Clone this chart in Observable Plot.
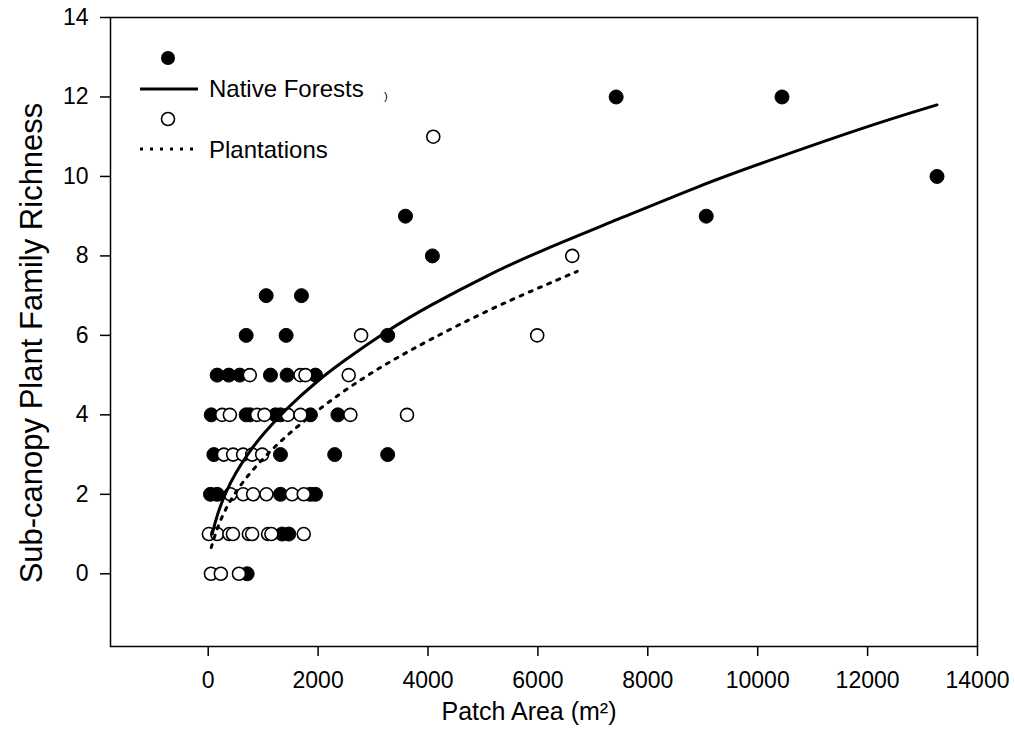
<!DOCTYPE html>
<html>
<head>
<meta charset="utf-8">
<script src="https://cdn.jsdelivr.net/npm/d3@7"></script>
<script src="https://cdn.jsdelivr.net/npm/@observablehq/plot@0.6"></script>
<style>
  html, body { margin: 0; padding: 0; background: #fff; }
  #chart svg { display: block; font-family: "Liberation Sans", Arial, sans-serif; }
</style>
</head>
<body>
<div id="chart"></div>
<script>
// Native forests (filled circles)
const nativeArea = [709, 1345, 1467, 42, 164, 1315, 1861, 1952, 103, 1315, 2302, 3266,
  55, 690, 760, 1224, 1315, 1861, 2360, 163, 375, 575, 1133, 1436, 1952,
  691, 1418, 3266, 1055, 1697, 4080, 3590, 9063, 13263, 7424, 10442];
const nativeRichness = [0, 1, 1, 2, 2, 2, 2, 2, 3, 3, 3, 3,
  4, 4, 4, 4, 4, 4, 4, 5, 5, 5, 5, 5, 5,
  6, 6, 6, 7, 7, 8, 9, 9, 10, 12, 12];
// Plantations (open circles)
const plantArea = [50, 230, 560, 12, 164, 385, 450, 740, 800, 1090, 1150, 1739,
  405, 636, 818, 1060, 1527, 1739, 285, 454, 636, 800, 982,
  255, 394, 891, 1024, 1448, 1679, 2587, 3618, 757, 1679, 1770, 2557,
  2782, 5987, 6625, 4096];
const plantRichness = [0, 0, 0, 1, 1, 1, 1, 1, 1, 1, 1, 1,
  2, 2, 2, 2, 2, 2, 3, 3, 3, 3, 3,
  4, 4, 4, 4, 4, 4, 4, 4, 5, 5, 5, 5,
  6, 6, 8, 11];
// Fitted curves
const nativeFitArea = [73, 160, 315, 500, 739, 1000, 1436, 2000, 2405, 3266, 4000, 5133, 6000, 7424, 9000, 10000, 12000, 13263];
const nativeFitRichness = [1.0, 1.48, 2.05, 2.55, 3.06, 3.52, 4.18, 4.87, 5.30, 6.13, 6.73, 7.55, 8.1, 8.9, 9.8, 10.3, 11.27, 11.8];
const plantFitArea = [55, 193, 436, 800, 1436, 2405, 3224, 4042, 5024, 6000, 6715];
const plantFitRichness = [0.66, 1.29, 1.95, 2.63, 3.52, 4.56, 5.28, 5.9, 6.59, 7.19, 7.61];
// Axes
const xTicks = [0, 2000, 4000, 6000, 8000, 10000, 12000, 14000];
const yTicks = [0, 2, 4, 6, 8, 10, 12, 14];
const legendLabels = ["Native Forests", "Plantations"];

const nativePts = nativeArea.map((a, i) => ({area: a, rich: nativeRichness[i]}));
const plantPts = plantArea.map((a, i) => ({area: a, rich: plantRichness[i]}));
const nativeFit = nativeFitArea.map((a, i) => ({area: a, rich: nativeFitRichness[i]}));
const plantFit = plantFitArea.map((a, i) => ({area: a, rich: plantFitRichness[i]}));

const font = "Liberation Sans, Arial, sans-serif";

const plot = Plot.plot({
  width: 1015,
  height: 755,
  marginLeft: 110,
  marginRight: 38,
  marginTop: 17,
  marginBottom: 109,
  style: {fontFamily: font, background: "#fff", color: "#000"},
  x: {domain: [-1778, 14000]},
  y: {domain: [-1.83, 14]},
  marks: [
    Plot.axisX({ticks: xTicks, tickSize: 10, tickPadding: 15, fontSize: 23, label: null,
      tickFormat: d3.format("d"), stroke: "#000", strokeWidth: 1.5}),
    Plot.axisY({ticks: yTicks, tickSize: 10, tickPadding: 12, fontSize: 23, label: null,
      tickFormat: d3.format("d"), stroke: "#000", strokeWidth: 1.5}),
    Plot.frame({stroke: "#000", strokeWidth: 1.5}),
    Plot.dot(nativePts, {x: "area", y: "rich", r: 7, fill: "#000", stroke: "#000", strokeWidth: 1}),
    Plot.dot(plantPts, {x: "area", y: "rich", r: 6.5, fill: "#fff", stroke: "#000", strokeWidth: 1.6}),
    Plot.line(nativeFit, {x: "area", y: "rich", curve: "basis", stroke: "#000", strokeWidth: 3}),
    Plot.line(plantFit, {x: "area", y: "rich", curve: "basis", stroke: "#000", strokeWidth: 3,
      strokeDasharray: "3,7"}),
    Plot.text(["Patch Area (m²)"], {frameAnchor: "bottom", dx: -15, dy: 65, lineAnchor: "middle",
      textAnchor: "middle", fontSize: 25, fill: "#000"}),
    Plot.text(["Sub-canopy Plant Family Richness"], {frameAnchor: "left", dx: -78, dy: 11, rotate: -90,
      textAnchor: "middle", lineAnchor: "middle", fontSize: 31, fill: "#000"})
  ]
});

// Legend (layout in pixels)
const svg = d3.select(plot);
const lg = svg.append("g").attr("font-family", font).attr("font-size", 24).attr("text-anchor", "start");
lg.append("circle").attr("cx", 168).attr("cy", 58).attr("r", 7).attr("fill", "#000");
lg.append("line").attr("x1", 140).attr("x2", 198).attr("y1", 89).attr("y2", 89)
  .attr("stroke", "#000").attr("stroke-width", 3);
lg.append("text").attr("x", 209).attr("y", 97).text(legendLabels[0]);
lg.append("circle").attr("cx", 168).attr("cy", 119).attr("r", 6.5).attr("fill", "#fff")
  .attr("stroke", "#000").attr("stroke-width", 1.6);
lg.append("line").attr("x1", 140).attr("x2", 198).attr("y1", 149).attr("y2", 149)
  .attr("stroke", "#000").attr("stroke-width", 3).attr("stroke-dasharray", "3,7");
lg.append("text").attr("x", 209).attr("y", 158).text(legendLabels[1]);
lg.append("text").attr("x", 384).attr("y", 100).attr("font-size", 11).text(")");

document.getElementById("chart").appendChild(plot);
</script>
</body>
</html>
